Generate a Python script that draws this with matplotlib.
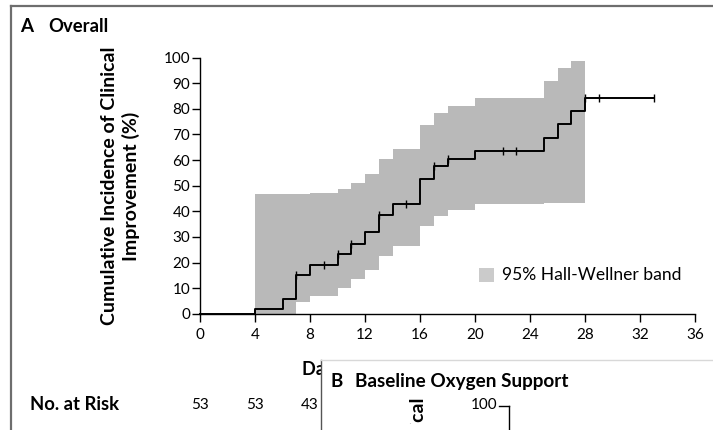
import matplotlib
matplotlib.use("Agg")
import matplotlib.pyplot as plt
from matplotlib.patches import Rectangle
from matplotlib.lines import Line2D
from matplotlib.transforms import Bbox

plt.rcParams['font.family'] = ['Lato', 'DejaVu Sans']

# ---- data ----
step_days = [0, 4, 6, 7, 8, 10, 11, 12, 13, 14, 16, 17, 18, 20, 25, 26, 27, 28, 33]
step_pct = [0, 1.9, 5.7, 15.1, 18.9, 23.2, 27.4, 31.9, 38.7, 42.8, 52.8, 57.7,
            60.6, 63.6, 68.8, 74.0, 79.2, 84.4, 84.4]
censor_days = [7, 9, 10, 11, 13, 15, 17, 18, 22, 23, 28, 29, 33]
censor_pct = [15.1, 18.9, 23.2, 27.4, 38.7, 42.8, 57.7, 60.6, 63.6, 63.6, 84.4, 84.4, 84.4]
band_days = [4, 7, 8, 10, 11, 12, 13, 14, 16, 17, 18, 20, 25, 26, 27, 28]
band_lower = [0, 4.5, 6.9, 9.9, 13.4, 17.1, 22.4, 26.4, 34.4, 38.3, 40.5, 42.8,
              43.4, 43.4, 43.4, 43.4]
band_upper = [46.6, 46.6, 47.0, 48.6, 51.0, 54.7, 60.3, 64.2, 73.6, 78.3, 81.1,
              84.1, 90.9, 95.9, 98.8, 98.8]
x_ticks = [0, 4, 8, 12, 16, 20, 24, 28, 32, 36]
y_ticks = [0, 10, 20, 30, 40, 50, 60, 70, 80, 90, 100]
risk_days = [0, 4, 8]
risk_counts = [53, 53, 43]

W, H = 713, 430
fig = plt.figure(figsize=(W / 100, H / 100), dpi=100)

def fx(px):
    return px / W

def fy(py):
    return 1 - py / H

ax = fig.add_axes([fx(200), fy(313.7), fx(695) - fx(200), fy(57.7) - fy(313.7)])

ax.fill_between(band_days, band_lower, band_upper, step='post',
                color='#b9b9b9', linewidth=0, zorder=1)
ax.step(step_days, step_pct, where='post', color='black', lw=1.4, zorder=3,
        clip_on=False)
ax.plot(censor_days, censor_pct, linestyle='none', marker='|', ms=6, mew=1.0,
        color='black', zorder=4, clip_on=False)

ax.set_xlim(0, 36)
ax.set_ylim(0, 100)
ax.set_xticks(x_ticks)
ax.set_yticks(y_ticks)
for s in ['top', 'right']:
    ax.spines[s].set_visible(False)
for s in ['left', 'bottom']:
    ax.spines[s].set_linewidth(1.0)
ax.tick_params(axis='both', direction='out', length=6, width=1.0,
               labelsize=11, colors='black')
ax.tick_params(axis='y', pad=1)
ax.tick_params(axis='x', pad=4.5)

# y-label placed explicitly (two centred lines)
fig.text(fx(120.5), fy(186), 'Cumulative Incidence of Clinical\nImprovement (%)',
         fontsize=14, fontweight='bold', rotation=90, va='center', ha='center',
         multialignment='center', linespacing=1.25)

# legend for band
fig.add_artist(Rectangle((fx(479), fy(282)), fx(494) - fx(479), fy(268) - fy(282),
                         transform=fig.transFigure, facecolor='#cbcbcb',
                         edgecolor='none'))
fig.text(fx(502), fy(275), '95% Hall-Wellner band', fontsize=12.6,
         va='center', ha='left')

# x-label (mostly hidden by panel B)
xl = fig.text(fx(302), fy(369.5), 'Days since Receiving First Remdesivir Dose',
              fontsize=13, fontweight='bold', va='center', ha='left')
xl.set_clip_box(Bbox([[0, 0], [321, H - 360.5]]))
xl.set_clip_on(True)

# title
fig.text(fx(20), fy(27), 'A', fontsize=13.5, fontweight='bold', va='center', ha='left')
fig.text(fx(48.5), fy(27), 'Overall', fontsize=13.3, fontweight='bold', va='center', ha='left')

# No. at risk
fig.text(fx(30), fy(405), 'No. at Risk', fontsize=13.3, fontweight='bold',
         va='center', ha='left')
for d, c in zip(risk_days, risk_counts):
    xp = ax.transData.transform((d, 0))[0]
    fig.text(xp / W, fy(405), str(c), fontsize=11, va='center', ha='center')

# outer frame
fig.add_artist(Line2D([fx(10.5), fx(10.5)], [0, fy(5.8)], transform=fig.transFigure,
                      color='#6e6e6e', lw=1.6))
fig.add_artist(Line2D([fx(10.5), 1], [fy(5.8), fy(5.8)], transform=fig.transFigure,
                      color='#6e6e6e', lw=1.6))

# panel B overlay
fig.add_artist(Rectangle((fx(321), 0), 1 - fx(321), fy(360), transform=fig.transFigure,
                         facecolor='white', edgecolor='none', zorder=10))
fig.add_artist(Line2D([fx(321), fx(321)], [0, fy(360)], transform=fig.transFigure,
                      color='#555555', lw=1.0, zorder=11))
fig.add_artist(Line2D([fx(321), 1], [fy(360), fy(360)], transform=fig.transFigure,
                      color='#d8d8d8', lw=1.0, zorder=11))
fig.text(fx(331), fy(381.5), 'B', fontsize=13.5, fontweight='bold', va='center',
         ha='left', zorder=12)
fig.text(fx(355), fy(381.5), 'Baseline Oxygen Support', fontsize=13.6, fontweight='bold',
         va='center', ha='left', zorder=12)
fig.text(fx(497), fy(405), '100', fontsize=11, va='center', ha='right', zorder=12)
fig.add_artist(Line2D([fx(499), fx(508.5)], [fy(405.5), fy(405.5)], transform=fig.transFigure,
                      color='black', lw=1.0, zorder=12))
fig.add_artist(Line2D([fx(508.5), fx(508.5)], [0, fy(405.5)], transform=fig.transFigure,
                      color='black', lw=1.0, zorder=12))
bl = fig.text(fx(418), fy(398), 'Cumulative Incidence of Clinical', fontsize=14,
              fontweight='bold', rotation=90, va='top', ha='center', zorder=12)
bl.set_clip_box(Bbox([[400, H - 423.5], [440, H - 390]]))
bl.set_clip_on(True)

fig.savefig('out.png', dpi=100)
